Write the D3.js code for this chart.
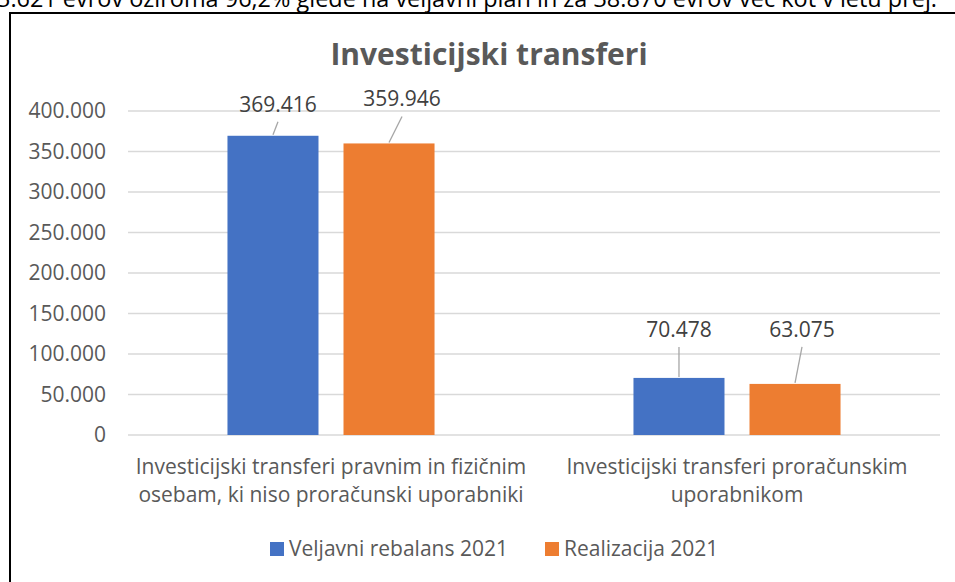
<!DOCTYPE html>
<html>
<head>
<meta charset="utf-8">
<script src="https://cdn.jsdelivr.net/npm/d3@7"></script>
<style>
  body { margin: 0; background: #fff; }
  svg { display: block; font-family: "Open Sans", "Noto Sans", sans-serif; }
</style>
</head>
<body>
<div id="chart"></div>
<script>
// data
const categories = [
  ["Investicijski transferi pravnim in fizičnim", "osebam, ki niso proračunski uporabniki"],
  ["Investicijski transferi proračunskim", "uporabnikom"]
];
const seriesNames = ["Veljavni rebalans 2021", "Realizacija 2021"];
const veljavni = [369416, 70478];
const realizacija = [359946, 63075];
const yTicks = [0, 50000, 100000, 150000, 200000, 250000, 300000, 350000, 400000];
const colors = ["#4472c4", "#ed7d31"];
const topText = "3.621 evrov oziroma 96,2% glede na veljavni plan in za 38.870 evrov več kot v letu prej.";

// label shifts (dragged data labels), px from bar top centre
const labelShift = [[[5, -24], [13, -37]], [[0, -41], [7, -47]]];

const W = 955, H = 582;
const margin = {top: 111, right: 15, bottom: 147, left: 128};

const svg = d3.select("#chart").append("svg")
  .attr("width", W).attr("height", H);

// text line above the chart box (cut by the page top, as in the source)
svg.append("text")
  .attr("x", -3).attr("y", 7)
  .attr("textLength", 940).attr("lengthAdjust", "spacingAndGlyphs")
  .style("font-size", "24px").attr("fill", "#000")
  .text(topText);

// chart box
svg.append("rect")
  .attr("x", 10).attr("y", 13)
  .attr("width", W + 10).attr("height", H + 10)
  .attr("fill", "#fff").attr("stroke", "#000").attr("stroke-width", 2);

svg.append("text")
  .attr("x", 489).attr("y", 65)
  .attr("text-anchor", "middle")
  .style("font-size", "30px").style("font-weight", "bold")
  .attr("fill", "#595959")
  .text("Investicijski transferi");

const g = svg.append("g").attr("transform", `translate(${margin.left},${margin.top})`);
const w = W - margin.left - margin.right, h = H - margin.top - margin.bottom;

const x0 = d3.scaleBand().domain(d3.range(categories.length)).range([0, w]);
const x1 = d3.scaleBand().domain([0, 1])
  .range([x0.bandwidth() * 0.245, x0.bandwidth() * 0.755])
  .paddingInner(0.2155).paddingOuter(0);
const y = d3.scaleLinear().domain([0, 400000]).range([h, 0]);

const fmt = d3.formatLocale({decimal: ",", thousands: ".", grouping: [3], currency: ["", ""]}).format(",");

// gridlines
g.append("g").selectAll("line").data(yTicks).join("line")
  .attr("x1", 0).attr("x2", w)
  .attr("y1", d => y(d)).attr("y2", d => y(d))
  .attr("stroke", "#d9d9d9").attr("stroke-width", 1.3);

// y tick labels
g.append("g").selectAll("text").data(yTicks).join("text")
  .attr("x", -22).attr("y", d => y(d) + 7)
  .attr("text-anchor", "end")
  .style("font-size", "21px").attr("fill", "#595959")
  .text(d => fmt(d));

const values = categories.map((c, i) => [veljavni[i], realizacija[i]]);

const groups = g.selectAll(".grp").data(values).join("g")
  .attr("class", "grp")
  .attr("transform", (d, i) => `translate(${x0(i)},0)`);

groups.selectAll("rect").data(d => d).join("rect")
  .attr("x", (d, j) => x1(j))
  .attr("y", d => y(d))
  .attr("width", x1.bandwidth())
  .attr("height", d => h - y(d))
  .attr("fill", (d, j) => colors[j]);

// data labels with leader lines
groups.each(function(vals, i) {
  const gg = d3.select(this);
  vals.forEach((v, j) => {
    const cx = x1(j) + x1.bandwidth() / 2;
    const [dx, dy] = labelShift[i][j];
    const lx = cx + dx, ly = y(v) + dy;
    gg.append("line")
      .attr("x1", cx).attr("y1", y(v) - 1)
      .attr("x2", lx).attr("y2", ly + 10)
      .attr("stroke", "#a6a6a6").attr("stroke-width", 1.3);
    gg.append("text")
      .attr("x", lx).attr("y", ly)
      .attr("text-anchor", "middle")
      .style("font-size", "21px").attr("fill", "#404040")
      .text(fmt(v));
  });
});

// category labels
g.append("g").selectAll("text").data(categories).join("text")
  .attr("text-anchor", "middle")
  .attr("transform", (d, i) => `translate(${x0(i) + x0.bandwidth() / 2},${h + 39})`)
  .style("font-size", "21px").attr("fill", "#595959")
  .selectAll("tspan").data(d => d).join("tspan")
  .attr("x", 0).attr("y", (d, k) => k * 28)
  .text(d => d);

// legend
const legendX = [270, 545];
const lg = svg.append("g").selectAll("g").data(seriesNames).join("g")
  .attr("transform", (d, i) => `translate(${legendX[i]},542)`);
lg.append("rect").attr("width", 14).attr("height", 14).attr("fill", (d, i) => colors[i]);
lg.append("text").attr("x", 19).attr("y", 14)
  .style("font-size", "21px").attr("fill", "#595959")
  .text(d => d);
</script>
</body>
</html>
